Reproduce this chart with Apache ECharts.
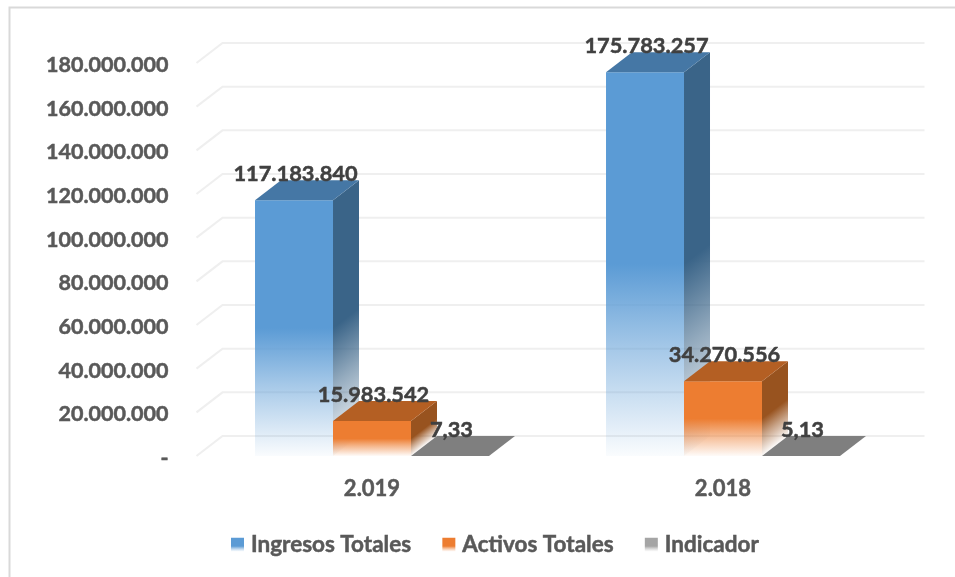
<!DOCTYPE html>
<html><head><meta charset="utf-8">
<style>html,body{margin:0;padding:0;background:#fff}#c{width:955px;height:577px}</style>
<script src="https://cdn.jsdelivr.net/npm/echarts@6/dist/echarts.min.js"></script>
</head><body><div id="c"></div>
<script>
const categories = ['2.019', '2.018'];
const ingresos = [117183840, 175783257];
const activos = [15983542, 34270556];
const indicador = [7.33, 5.13];
const yTicks = [0, 20000000, 40000000, 60000000, 80000000, 100000000, 120000000, 140000000, 160000000, 180000000];

const DX = 26, DY = 20, BAR_FRAC = 0.2222;
const FONT = 'Lato, Carlito, "Open Sans", sans-serif';
const fmt = v => v.toLocaleString('de-DE');

function rgba(c, a) { return 'rgba(' + c[0] + ',' + c[1] + ',' + c[2] + ',' + a + ')'; }
function fade(c, x1, y1, x2, y2) {
  return { type: 'linear', x: x1, y: y1, x2: x2, y2: y2, global: true, colorStops: [
    { offset: 0, color: rgba(c, 1) }, { offset: 0.5, color: rgba(c, 1) },
    { offset: 0.72, color: rgba(c, 0.55) }, { offset: 1, color: rgba(c, 0.03) }] };
}
function barSeries(name, values, slot, front, side, top, legendCol) {
  return {
    name: name, type: 'custom', coordinateSystem: 'cartesian2d', z: 5 + slot,
    itemStyle: { color: { type: 'linear', x: 0, y: 0, x2: 0, y2: 1, colorStops: [
      { offset: 0, color: legendCol }, { offset: 0.6, color: legendCol }, { offset: 1, color: rgba([255,255,255], 0.6) }] } },
    data: values.map((v, i) => [i, v]),
    renderItem: function (p, api) {
      const i = api.value(0), v = api.value(1);
      const band = api.size([1, 0])[0], w = band * BAR_FRAC;
      const c0 = api.coord([i, 0]), c1 = api.coord([i, v]);
      const xl = c0[0] + (slot - 1) * w - w / 2, xr = xl + w, yb = c0[1], yt = c1[1], h = yb - yt;
      const L = Math.hypot(DX, DY), k = h * DX / L;
      const kids = [];
      if (h > 1) {
        kids.push({ type: 'polygon', shape: { points: [[xl, yt], [xr, yt], [xr, yb], [xl, yb]] },
          style: { fill: fade(front, 0, yt, 0, yb) } });
        kids.push({ type: 'polygon', shape: { points: [[xr, yt], [xr + DX, yt - DY], [xr + DX, yb - DY], [xr, yb]] },
          style: { fill: fade(side, xr, yt, xr + DY / L * k, yt + DX / L * k) } });
      }
      kids.push({ type: 'polygon', shape: { points: [[xl, yt], [xr, yt], [xr + DX, yt - DY], [xl + DX, yt - DY]] },
        style: { fill: top } });
      kids.push({ type: 'text', z2: 100, style: { text: fmt(v), x: (xl + xr) / 2 + 1.5, y: yt - 26, align: 'center', verticalAlign: 'middle',
        font: 'bold 21.8px ' + FONT, fill: '#404040', stroke: '#404040', lineWidth: 0.5 } });
      return { type: 'group', children: kids };
    }
  };
}
const gridSeries = {
  type: 'custom', name: 'wall', coordinateSystem: 'cartesian2d', z: 1, silent: true,
  data: yTicks.map(v => [0, v]),
  renderItem: function (p, api) {
    const y = api.coord([0, api.value(1)])[1], x = p.coordSys.x, w = p.coordSys.width;
    return { type: 'polyline', shape: { points: [[x, y], [x + DX, y - DY], [x + w + DX, y - DY]] },
      style: { stroke: '#EFEFEF', lineWidth: 2, fill: null } };
  }
};

const chart = echarts.init(document.getElementById('c'), null, { renderer: 'canvas' });
const heavy = { textBorderColor: '#595959', textBorderWidth: 0.5 };
chart.setOption({
  animation: false,
  backgroundColor: '#fff',
  grid: { left: 196.5, right: 56.5, top: 63, bottom: 121 },
  xAxis: { type: 'category', data: categories, axisLine: { show: false }, axisTick: { show: false },
    axisLabel: Object.assign({ margin: 22, fontFamily: FONT, fontWeight: 'bold', fontSize: 22, color: '#595959' }, heavy) },
  yAxis: { type: 'value', min: 0, max: 180000000, interval: 20000000, splitLine: { show: false }, axisLine: { show: false }, axisTick: { show: false },
    axisLabel: Object.assign({ margin: 28, fontFamily: FONT, fontWeight: 'bold', fontSize: 21.5, color: '#595959', verticalAlign: 'top', lineHeight: 4, formatter: v => v === 0 ? '-' : fmt(v) }, heavy) },
  legend: { left: 231, top: 533, padding: 0, itemWidth: 13, itemHeight: 14, itemGap: 31, icon: 'rect',
    data: ['Ingresos Totales', 'Activos Totales', 'Indicador'],
    textStyle: Object.assign({ fontFamily: FONT, fontWeight: 'bold', fontSize: 22.5, color: '#595959', padding: [0, 0, 0, 2] }, heavy) },
  graphic: [{ type: 'polyline', silent: true, shape: { points: [[9.5, 577], [9.5, 7.5], [955, 7.5]] }, style: { stroke: '#D9D9D9', lineWidth: 2, fill: null } }],
  series: [
    gridSeries,
    barSeries('Ingresos Totales', ingresos, 0, [91, 155, 213], [58, 100, 136], '#4577A5', '#5B9BD5'),
    barSeries('Activos Totales', activos, 1, [237, 125, 49], [152, 83, 31], '#B45F23', '#ED7D31'),
    barSeries('Indicador', indicador, 2, [165, 165, 165], [120, 120, 120], '#7F7F7F', '#A5A5A5')
  ]
});
</script></body></html>
